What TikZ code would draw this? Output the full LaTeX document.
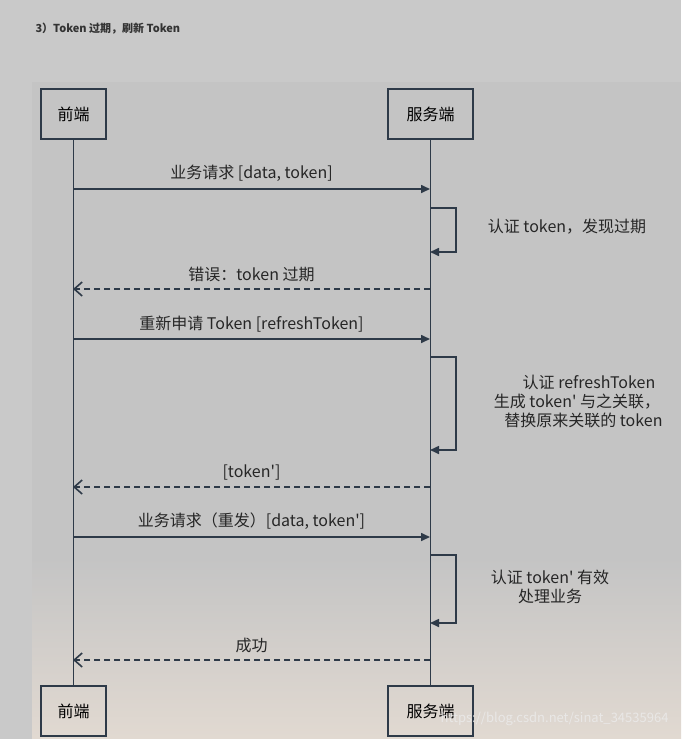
\documentclass[tikz,border=0pt]{standalone}
\usepackage{fontspec}
\setmainfont{Noto Sans CJK SC}[Ligatures=TeXOff]
\usetikzlibrary{arrows.meta}
\definecolor{ln}{HTML}{2E3A48}
\begin{document}
\begin{tikzpicture}[x=1pt,y=-1pt,
  actor/.style={draw=ln,line width=2pt,minimum height=50pt,inner sep=0pt,font=\fontsize{16}{18}\selectfont},
  life/.style={ln,line width=1.6pt},
  msg/.style={ln,line width=1.6pt,-{Triangle[length=9pt,width=8pt]}},
  ret/.style={ln,line width=1.6pt,dashed,dash pattern=on 6pt off 4pt,-{Straight Barb[length=8pt,width=14pt]}},
  lbl/.style={font=\fontsize{16}{19}\selectfont,text=black!85,align=center}]
\useasboundingbox (0,0) rectangle (681,739);
\fill[black!21] (0,0) rectangle (681,739);
\fill[black!23] (32,82) rectangle (681,739);
\shade[top color=black!23,bottom color=orange!35!black!18] (32,560) rectangle (681,739);
\node[anchor=west,font=\fontsize{11}{13}\selectfont\bfseries,text=black!80] (title) at (32,29) {3）Token 过期，刷新 Token};
\node[actor,minimum width=65pt] (a1) at (73.5,114) {前端};
\node[actor,minimum width=85pt] (b1) at (430.5,114) {服务端};
\node[actor,minimum width=65pt] (a2) at (73.5,711) {前端};
\node[actor,minimum width=85pt] (b2) at (430.5,711) {服务端};
\draw[life] (a1) -- (a2);
\draw[life] (b1) -- (b2);
\coordinate (s1) at (73,189); \coordinate (e1) at (430,189);
\draw[msg] (s1) -- (e1) node[lbl,midway,above=3pt] {业务请求 [data, token]};
\coordinate (l1a) at (430,208); \coordinate (l1b) at (430,252);
\draw[msg] (l1a) -- ++(26,0) |- (l1b);
\node[lbl] (t1) at (567,227) {认证 token，发现过期};
\coordinate (s2) at (430,289); \coordinate (e2) at (73,289);
\draw[ret] (s2) -- (e2) node[lbl,midway,above=3pt] {错误：token 过期};
\coordinate (s3) at (73,339); \coordinate (e3) at (430,339);
\draw[msg] (s3) -- (e3) node[lbl,midway,above=3pt] {重新申请 Token [refreshToken]};
\coordinate (l2a) at (430,357); \coordinate (l2b) at (430,450);
\draw[msg] (l2a) -- ++(26,0) |- (l2b);
\node[lbl] (t2) at (577,401) {\hspace*{1.5em}认证 refreshToken\\生成 token' 与之关联，\\\hspace*{0.8em}替换原来关联的 token};
\coordinate (s4) at (430,487); \coordinate (e4) at (73,487);
\draw[ret] (s4) -- (e4) node[lbl,midway,above=3pt] {[token']};
\coordinate (s5) at (73,537); \coordinate (e5) at (430,537);
\draw[msg] (s5) -- (e5) node[lbl,midway,above=3pt] {业务请求（重发）[data, token']};
\coordinate (l3a) at (430,555); \coordinate (l3b) at (430,623);
\draw[msg] (l3a) -- ++(26,0) |- (l3b);
\node[lbl] (t3) at (550,587) {认证 token' 有效\\处理业务};
\coordinate (s6) at (430,660); \coordinate (e6) at (73,660);
\draw[ret] (s6) -- (e6) node[lbl,midway,above=3pt] {成功};
\node[anchor=east,font=\fontsize{13}{15}\selectfont,text=white!85!gray,opacity=0.8] (wm) at (672,719) {https://blog.csdn.net/sinat\_34535964};
\end{tikzpicture}
\end{document}
